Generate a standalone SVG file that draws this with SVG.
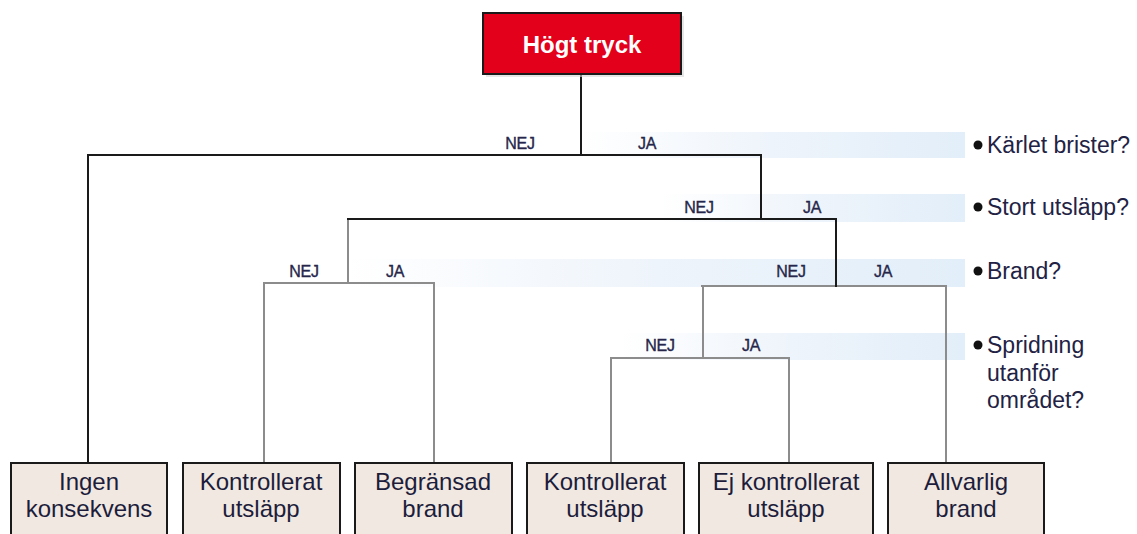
<svg xmlns="http://www.w3.org/2000/svg" width="1137" height="534" viewBox="0 0 1137 534">
<defs>
<linearGradient id="band" x1="0" y1="0" x2="1" y2="0">
<stop offset="0" stop-color="#ffffff"/>
<stop offset="0.5" stop-color="#eef4fb"/>
<stop offset="1" stop-color="#e2eef9"/>
</linearGradient>
<style>
.main{stroke:#1a1a1a;stroke-width:2;fill:none;stroke-linecap:square}
.sub{stroke:#8c8c8c;stroke-width:2;fill:none;stroke-linecap:square}
.yn{font-family:"Liberation Sans",Arial,sans-serif;font-size:16px;fill:#26264a;stroke:#26264a;stroke-width:0.35;text-anchor:middle;letter-spacing:-0.3px}
.q{font-family:"Liberation Sans",Arial,sans-serif;font-size:23px;fill:#222244}
.leaf rect{fill:#f0e8e1;stroke:#1a1a1a;stroke-width:2}
.leaf text{font-family:"Liberation Sans",Arial,sans-serif;font-size:24px;fill:#1d1d3b;text-anchor:middle}
.bullet{fill:#111}
</style>
</defs>
<rect width="1137" height="534" fill="#ffffff"/>

<g id="bands">
<rect x="580" y="132" width="385" height="26" fill="url(#band)"/>
<rect x="660" y="194" width="305" height="28" fill="url(#band)"/>
<rect x="347" y="259" width="618" height="28" fill="url(#band)"/>
<rect x="620" y="333" width="345" height="27" fill="url(#band)"/>
</g>

<g id="connectors">
<path class="sub" d="M348 219 V283 M264 283 H434 M264 283 V463 M434 283 V463"/>
<path class="sub" d="M702 286 H946 M946 286 V463 M703 286 V358 M611 358 H789 M611 358 V463 M789 358 V463"/>
<path class="main" d="M581 74 V155 M88 155 H761 M88 155 V463 M761 155 V219 M348 219 H836 M836 219 V286"/>
</g>

<g id="branch-labels">
<text class="yn" x="520" y="149">NEJ</text>
<text class="yn" x="647" y="149">JA</text>
<text class="yn" x="699" y="213">NEJ</text>
<text class="yn" x="812" y="213">JA</text>
<text class="yn" x="304" y="277">NEJ</text>
<text class="yn" x="395" y="277">JA</text>
<text class="yn" x="791" y="277">NEJ</text>
<text class="yn" x="883" y="277">JA</text>
<text class="yn" x="660" y="351">NEJ</text>
<text class="yn" x="751" y="351">JA</text>
</g>

<g id="questions">
<circle class="bullet" cx="978" cy="145" r="4.5"/>
<text class="q" x="987" y="153">Kärlet brister?</text>
<circle class="bullet" cx="978" cy="207" r="4.5"/>
<text class="q" x="987" y="215">Stort utsläpp?</text>
<circle class="bullet" cx="978" cy="271" r="4.5"/>
<text class="q" x="987" y="279">Brand?</text>
<circle class="bullet" cx="978" cy="345" r="4.5"/>
<text class="q" x="987" y="353">Spridning</text>
<text class="q" x="987" y="381">utanför</text>
<text class="q" x="987" y="408">området?</text>
</g>

<g id="root">
<rect x="486" y="16" width="198" height="61" fill="#d5d5d5" opacity="0.6"/>
<rect x="483" y="13" width="198" height="61" fill="#e2001a" stroke="#1a1a1a" stroke-width="2"/>
<text x="582" y="53" font-family="Liberation Sans, Arial, sans-serif" font-size="24" font-weight="bold" fill="#ffffff" text-anchor="middle">Högt tryck</text>
</g>

<g id="leaf-ingen" class="leaf">
<rect x="11" y="463" width="156" height="80"/>
<text x="89" y="490">Ingen</text>
<text x="89" y="517">konsekvens</text>
</g>
<g id="leaf-kontrollerat-1" class="leaf">
<rect x="183" y="463" width="157" height="80"/>
<text x="261" y="490">Kontrollerat</text>
<text x="261" y="517">utsläpp</text>
</g>
<g id="leaf-begransad" class="leaf">
<rect x="355" y="463" width="157" height="80"/>
<text x="433" y="490">Begränsad</text>
<text x="433" y="517">brand</text>
</g>
<g id="leaf-kontrollerat-2" class="leaf">
<rect x="527" y="463" width="157" height="80"/>
<text x="605" y="490">Kontrollerat</text>
<text x="605" y="517">utsläpp</text>
</g>
<g id="leaf-ej-kontrollerat" class="leaf">
<rect x="699" y="463" width="174" height="80"/>
<text x="786" y="490">Ej kontrollerat</text>
<text x="786" y="517">utsläpp</text>
</g>
<g id="leaf-allvarlig" class="leaf">
<rect x="888" y="463" width="156" height="80"/>
<text x="966" y="490">Allvarlig</text>
<text x="966" y="517">brand</text>
</g>
</svg>
